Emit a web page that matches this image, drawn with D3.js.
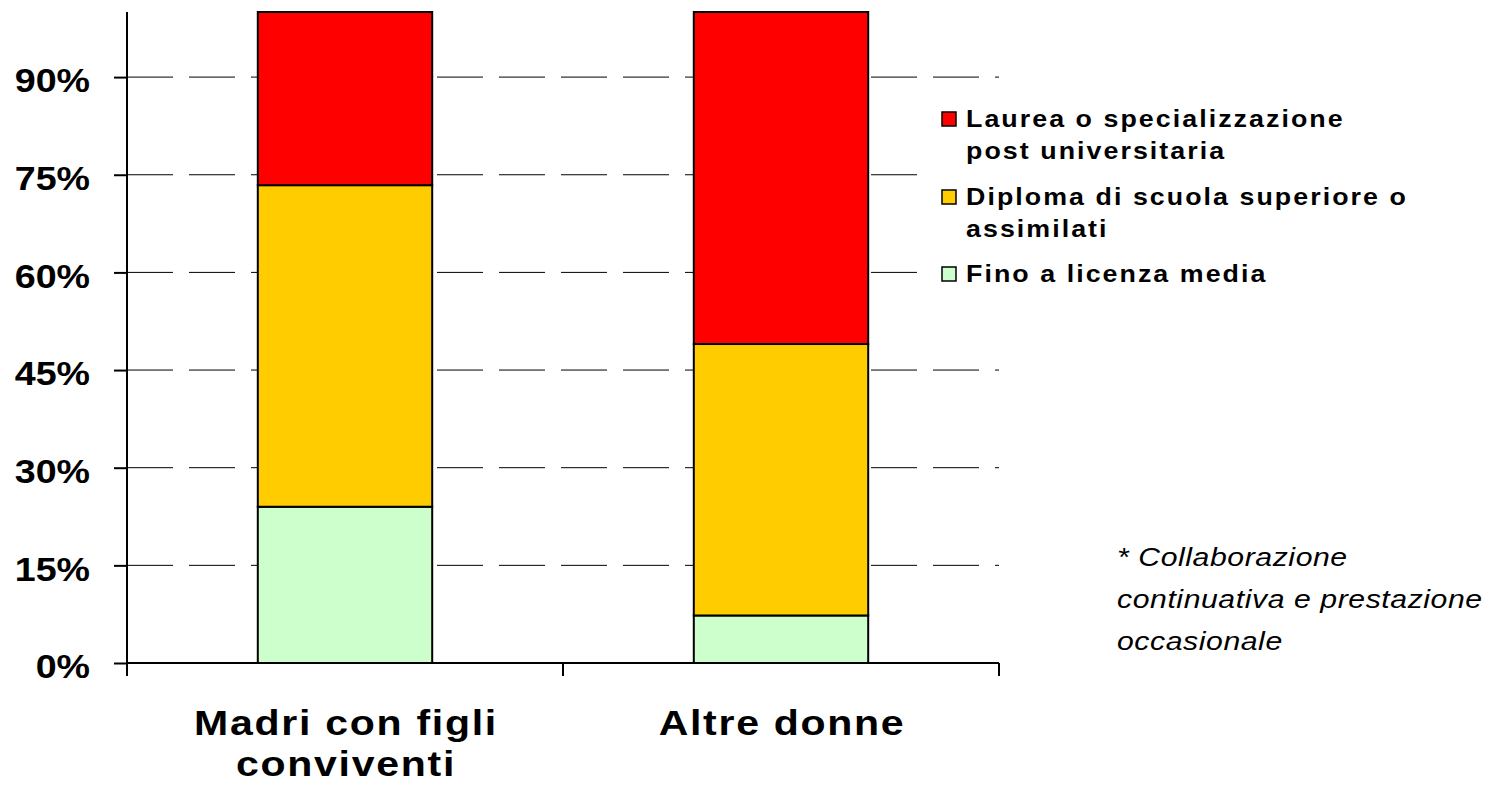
<!DOCTYPE html>
<html>
<head>
<meta charset="utf-8">
<script src="https://cdn.jsdelivr.net/npm/d3@7/dist/d3.min.js"></script>
<style>
  body { margin: 0; background: #fff; }
  text { font-family: Arial, "Liberation Sans", sans-serif; fill: #000; }
</style>
</head>
<body>
<svg id="chart"></svg>
<script>
// data (percent of each group)
const categories = ["Madri con figli conviventi", "Altre donne"];
const catLines = [["Madri con figli", "conviventi"], ["Altre donne"]];
const seriesNames = ["Fino a licenza media", "Diploma di scuola superiore o assimilati", "Laurea o specializzazione post universitaria"];
const licenzaMedia = [24.0, 7.3];
const diploma = [49.4, 41.7];
const laurea = [26.6, 51.0];
const yTicks = [0, 15, 30, 45, 60, 75, 90];
const colors = ["#CCFFCC", "#FFCC00", "#FF0000"];

const width = 1499, height = 787;
const plotLeft = 127, plotRight = 999, plotTop = 12, plotBottom = 663;
const stretch = 1.14; // the original text is a bit wider than Arial

const svg = d3.select("#chart").attr("width", width).attr("height", height);

const x = d3.scaleBand().domain(categories).range([plotLeft, plotRight]).padding(0);
const y = d3.scaleLinear().domain([0, 100]).range([plotBottom, plotTop]);

// stack the three series
const rows = categories.map((c, i) => ({ cat: c, s0: licenzaMedia[i], s1: diploma[i], s2: laurea[i] }));
const stack = d3.stack().keys(["s0", "s1", "s2"]);
const layers = stack(rows);

// dashed gridlines
svg.append("g").selectAll("line")
  .data(yTicks.filter(t => t > 0))
  .enter().append("line")
  .attr("x1", plotLeft).attr("x2", plotRight)
  .attr("y1", d => y(d)).attr("y2", d => y(d))
  .style("stroke", "#000")
  .style("stroke-width", 1)
  .style("stroke-dasharray", "46,16");

// bars
const barW = x.bandwidth() * 0.4;
layers.forEach((layer, k) => {
  svg.append("g").selectAll("rect")
    .data(layer)
    .enter().append("rect")
    .attr("x", d => x(d.data.cat) + (x.bandwidth() - barW) / 2)
    .attr("y", d => y(d[1]))
    .attr("width", barW)
    .attr("height", d => y(d[0]) - y(d[1]))
    .style("fill", colors[k])
    .style("stroke", "#000")
    .style("stroke-width", 2);
});

// y axis
const yAxis = svg.append("g")
  .attr("transform", `translate(${plotLeft},0)`)
  .call(d3.axisLeft(y).tickValues(yTicks).tickSize(13).tickFormat(d => d + "%"));
yAxis.select(".domain").attr("d", `M0,${plotTop}V${plotBottom}`).style("stroke-width", 2);
yAxis.selectAll(".tick line").style("stroke-width", 2);
yAxis.selectAll(".tick text")
  .attr("transform", `scale(${stretch},1)`)
  .attr("x", -37 / stretch)
  .attr("dy", "0.45em")
  .style("font-size", "33px")
  .style("font-weight", "bold");

// x axis with ticks between the categories
const xAxis = svg.append("g").attr("transform", `translate(0,${plotBottom})`);
xAxis.append("line").attr("x1", plotLeft).attr("x2", plotRight)
  .style("stroke", "#000").style("stroke-width", 2);
xAxis.selectAll(".sep")
  .data(categories.concat(["end"]))
  .enter().append("line")
  .attr("class", "sep")
  .attr("x1", (d, i) => i < categories.length ? x(d) : plotRight)
  .attr("x2", (d, i) => i < categories.length ? x(d) : plotRight)
  .attr("y1", 0).attr("y2", 13)
  .style("stroke", "#000").style("stroke-width", 2);

// category labels
categories.forEach((c, i) => {
  const cx = x(c) + x.bandwidth() / 2;
  const t = svg.append("g")
    .attr("transform", `translate(${cx + 1},735) scale(${stretch},1)`)
    .append("text")
    .attr("text-anchor", "middle")
    .style("font-size", "36px")
    .style("font-weight", "bold")
    .style("letter-spacing", "1.5px");
  catLines[i].forEach((l, j) => {
    t.append("tspan").attr("x", 0).attr("dy", j ? 41 : 0).text(l);
  });
});

// legend (white box covers the gridlines behind it)
const legend = svg.append("g");
legend.append("rect").attr("x", 928).attr("y", 96).attr("width", 560).attr("height", 200).style("fill", "#fff");
const legendItems = [
  { color: colors[2], lines: ["Laurea o specializzazione", "post universitaria"], y: 127 },
  { color: colors[1], lines: ["Diploma di scuola superiore o", "assimilati"], y: 205 },
  { color: colors[0], lines: ["Fino a licenza media"], y: 282 }
];
legendItems.forEach(it => {
  legend.append("rect")
    .attr("x", 942).attr("y", it.y - 15).attr("width", 14).attr("height", 14)
    .style("fill", it.color).style("stroke", "#000").style("stroke-width", 1.5);
  const t = legend.append("g")
    .attr("transform", `translate(966,${it.y}) scale(${stretch},1)`)
    .append("text")
    .style("font-size", "23.5px").style("font-weight", "bold").style("letter-spacing", "1.8px");
  it.lines.forEach((l, j) => t.append("tspan").attr("x", 0).attr("dy", j ? 32 : 0).text(l));
});

// footnote
const noteLines = ["* Collaborazione", "continuativa e prestazione", "occasionale"];
const note = svg.append("g")
  .attr("transform", `translate(1117,566) scale(${stretch},1)`)
  .append("text")
  .style("font-size", "26.5px").style("font-style", "italic").style("letter-spacing", "0.5px");
noteLines.forEach((l, j) => note.append("tspan").attr("x", 0).attr("dy", j ? 42 : 0).text(l));
</script>
</body>
</html>
